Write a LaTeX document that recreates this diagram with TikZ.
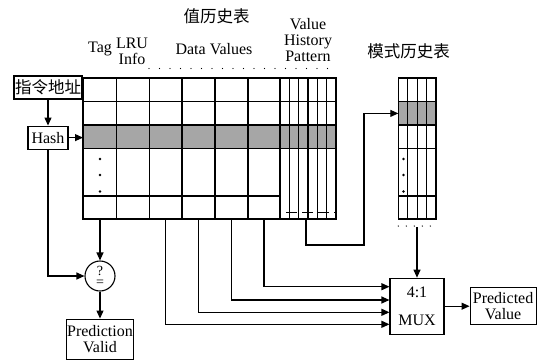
\documentclass[tikz,border=0pt]{standalone}
\usepackage{fontspec}
\setmainfont{Liberation Serif}
\newfontfamily\cjk{Noto Sans CJK SC}
\usepackage{tikz}
\usetikzlibrary{positioning,calc,arrows.meta}
\definecolor{ink}{RGB}{0,0,0}
\definecolor{rowHit}{RGB}{166,166,166}
\newcommand{\colDots}[1]{\foreach \yy in {159,175,191.5} \fill[ink] (#1,\yy) circle (1.3pt);}
\newcommand{\hz}{\cjk\fontsize{16.5}{18}\selectfont}

\begin{document}
\begin{tikzpicture}[
  x=1pt, y=-1pt,
  font=\fontsize{16}{16}\selectfont,
  >={Triangle[length=8pt,width=7pt]},
  box/.style={draw=ink, line width=1.1pt, align=center, inner sep=0.5pt},
  grid/.style={draw=ink, line width=1.3pt},
  sig/.style={->, draw=ink, line width=1.1pt},
  dotrule/.style={draw=ink, line width=1.4pt, line cap=round, dash pattern=on 0pt off #1},
]
\useasboundingbox (0,0) rectangle (540,360);

% ---- value history table ----
\fill[rowHit] (83,125) rectangle (336,148.7);
\draw[grid] (83,78) rectangle (336,219);
\foreach \x in {116.7,149.3,182,215,248,280} \draw[grid] (\x,78) -- (\x,219);
\foreach \k in {1,...,5} \draw[grid] ({280+\k*9.33},78) -- ({280+\k*9.33},219);
\foreach \y in {101.7,125,148.7} \draw[grid] (83,\y) -- (336,\y);
\draw[grid] (83,196) -- (280,196);
\draw[grid, line width=1pt, dash pattern=on 10.5pt off 5.5pt] (286,212) -- (336,212);
\draw[dotrule=10.5pt] (149,68.5) -- (336,68.5);
\colDots{100}

% ---- pattern history table ----
\fill[rowHit] (398.3,101.7) rectangle (436,125);
\draw[grid] (398.3,78) rectangle (436,219);
\foreach \k in {1,2,3} \draw[grid] ({398.3+\k*9.43},78) -- ({398.3+\k*9.43},219);
\foreach \y in {101.7,125,148.7,196} \draw[grid] (398.3,\y) -- (436,\y);
\draw[dotrule=8pt] (398.3,226) -- (436,226);
\colDots{403.5}

% ---- headings ----
\node[font=\hz] (VHTtitle) at (216.7,16.7) {值历史表};
\node (TAGlab) at (100,49) {Tag};
\node[align=center] (LRUlab) at (132,51) {LRU\\Info};
\node (DATAlab) at (214,49) {Data Values};
\node[align=center] (VHPlab) at (308,40) {Value\\History\\Pattern};
\node[font=\hz] (PHTtitle) at (408.5,51.7) {模式历史表};

% ---- blocks ----
\node[box, font=\hz, minimum width=68pt, minimum height=23pt] (ADDR) at (48,87.5) {指令地址};
\node[box, minimum width=40pt, minimum height=23pt, below=26pt of ADDR] (HASH) {Hash};
\node[circle, draw=ink, line width=1.1pt, minimum size=30pt, inner sep=0pt, font=\fontsize{14}{14}\selectfont] (CMP) at (100,276)
  {\makebox[0pt]{\raisebox{5.4pt}{?}}\makebox[0pt]{\raisebox{-5.4pt}{=}}};
\node[box, minimum width=67pt, minimum height=40pt, below=27pt of CMP] (PV) {Prediction\\Valid};
\node[box, minimum width=54pt, minimum height=56pt] (MUX) at (417,306.2) {4:1\\[12pt]MUX};
\node[box, minimum width=66pt, minimum height=37pt, right=25pt of MUX] (PRED) {Predicted\\Value};

% ---- ports on the tables ----
\coordinate (VHTin) at (83,137);
\coordinate (TAGout) at (100,219);
\coordinate (VHPout) at (306,219);
\coordinate (LOOP) at (364,245);
\coordinate (PHTin) at (398.3,113.4);
\coordinate (PHTout) at (417,227);
\coordinate (D1) at (165.5,219);
\coordinate (D2) at (198.5,219);
\coordinate (D3) at (231.5,219);
\coordinate (D4) at (264,219);

% ---- connectors ----
\draw[sig] (ADDR) -- (HASH);
\draw[sig] (HASH.east) -- (HASH.east -| VHTin);
\draw[sig] (HASH.south) |- (CMP.west);
\draw[sig] (TAGout) -- (CMP.north);
\draw[sig] (CMP) -- (PV);
\draw[sig] (VHPout) |- (LOOP) |- (PHTin);
\foreach \c/\dy in {D4/-19.5,D3/-6.2,D2/6.1,D1/18.1}
  \draw[sig] (\c) |- ($(MUX.west)+(0,\dy)$);
\draw[sig] (PHTout) -- (MUX.north);
\draw[sig] (MUX) -- (PRED);

\end{tikzpicture}
\end{document}
